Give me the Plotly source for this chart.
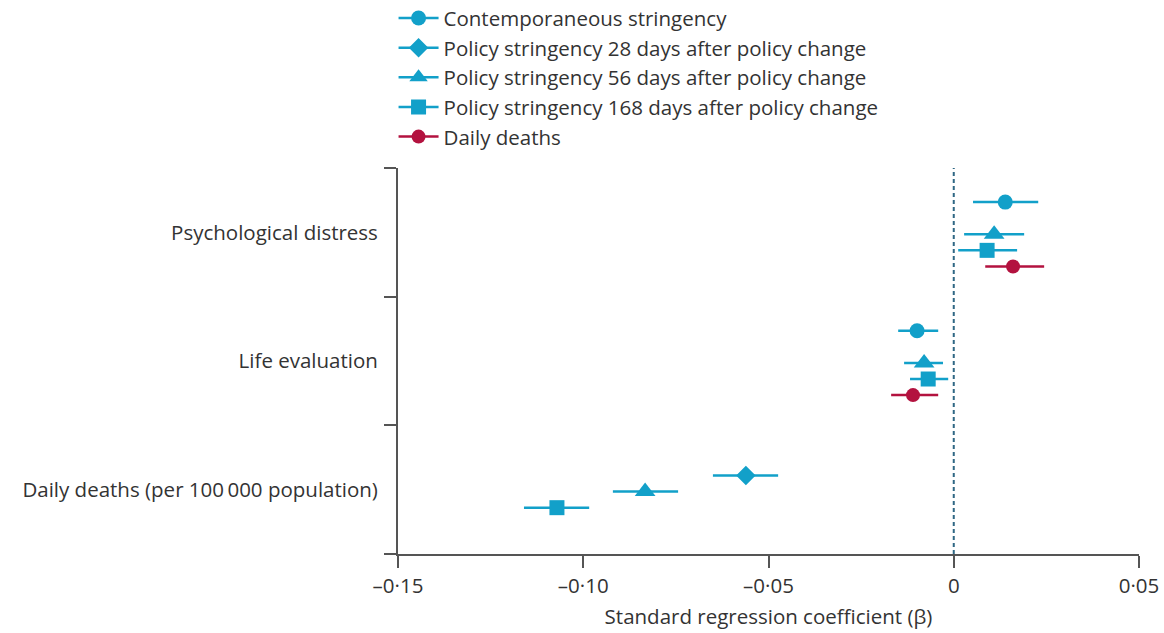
import plotly.graph_objects as go

categories = ["Psychological distress", "Life evaluation", "Daily deaths (per 100\u2009000 population)"]

series_names = [
    "Contemporaneous stringency",
    "Policy stringency 28 days after policy change",
    "Policy stringency 56 days after policy change",
    "Policy stringency 168 days after policy change",
    "Daily deaths",
]

# estimates per category (None = not estimated)
contemp_est = [0.0139, -0.0099, None]
contemp_lo = [0.0052, -0.0150, None]
contemp_hi = [0.0228, -0.0042, None]

lag28_est = [None, None, -0.0561]
lag28_lo = [None, None, -0.0650]
lag28_hi = [None, None, -0.0474]

lag56_est = [0.0109, -0.0080, -0.0833]
lag56_lo = [0.0028, -0.0134, -0.0920]
lag56_hi = [0.0190, -0.0029, -0.0744]

lag168_est = [0.0090, -0.0069, -0.1071]
lag168_lo = [0.0012, -0.0118, -0.1160]
lag168_hi = [0.0171, -0.0015, -0.0984]

deaths_est = [0.0160, -0.0110, None]
deaths_lo = [0.0085, -0.0169, None]
deaths_hi = [0.0244, -0.0042, None]

x_ticks = [-0.15, -0.10, -0.05, 0, 0.05]
x_tick_labels = ["\u20130\u00b715", "\u20130\u00b710", "\u20130\u00b705", "0", "0\u00b705"]

BLUE = "#12a0c9"
RED = "#b3123f"
FONT = "Open Sans"
FS = 20.5
TXT = "#333333"

series = [
    (series_names[0], contemp_est, contemp_lo, contemp_hi, "circle", 15, BLUE),
    (series_names[1], lag28_est, lag28_lo, lag28_hi, "diamond", 15, BLUE),
    (series_names[2], lag56_est, lag56_lo, lag56_hi, "triangle-up", 18, BLUE),
    (series_names[3], lag168_est, lag168_lo, lag168_hi, "square", 15, BLUE),
    (series_names[4], deaths_est, deaths_lo, deaths_hi, "circle", 14, RED),
]
offsets = [-0.235, -0.11, 0.015, 0.14, 0.265]

fig = go.Figure()
for k, (name, est, lo, hi, sym, size, col) in enumerate(series):
    xs, ys, plus, minus = [], [], [], []
    for i, v in enumerate(est):
        if v is None:
            continue
        xs.append(v)
        ys.append(i + offsets[k])
        plus.append(hi[i] - v)
        minus.append(v - lo[i])
    fig.add_trace(go.Scatter(
        x=xs, y=ys, mode="markers", name=name, legendgroup=name, showlegend=False,
        marker=dict(symbol=sym, size=size, color=col, line=dict(width=0)),
        error_x=dict(type="data", symmetric=False, array=plus, arrayminus=minus,
                     color=col, thickness=2.5, width=0),
        hoverinfo="x+name",
    ))
    fig.add_trace(go.Scatter(
        x=[None], y=[None], mode="lines+markers", name=name, legendgroup=name,
        showlegend=True,
        marker=dict(symbol=sym, size=size, color=col),
        line=dict(color=col, width=2.5),
    ))

fig.add_shape(type="line", xref="x", yref="paper", x0=0, x1=0, y0=0, y1=1,
              line=dict(color="#2f6784", width=2, dash="4px,3px"))

fig.update_layout(
    width=1164, height=633,
    margin=dict(l=398, r=25, t=168, b=79, autoexpand=False),
    plot_bgcolor="white", paper_bgcolor="white",
    font=dict(family=FONT, size=FS, color=TXT),
    showlegend=True,
    legend=dict(
        x=-0.006, xanchor="left", xref="paper",
        y=1.44, yanchor="top", yref="paper",
        font=dict(family=FONT, size=FS, color=TXT),
        traceorder="grouped", tracegroupgap=0, itemwidth=40,
        bgcolor="rgba(0,0,0,0)",
    ),
    xaxis=dict(
        range=[-0.15, 0.05], tickvals=x_ticks, ticktext=x_tick_labels,
        showgrid=False, zeroline=False, showline=True, linecolor="#555555", linewidth=2,
        ticks="outside", ticklen=12, tickwidth=2, tickcolor="#555555",
        tickfont=dict(family=FONT, size=FS, color=TXT), automargin=False,
        title=dict(text="Standard regression coefficient (\u03b2)", standoff=12,
                   font=dict(family=FONT, size=FS, color=TXT)),
    ),
    yaxis=dict(
        range=[2.5, -0.5], tickvals=[0, 1, 2], ticktext=categories,
        showgrid=False, zeroline=False, showline=True, linecolor="#555555", linewidth=2,
        ticks="outside", ticklen=0, tickcolor="rgba(0,0,0,0)",
        ticklabelstandoff=14, automargin=False,
        tickfont=dict(family=FONT, size=FS, color=TXT),
        minor=dict(tickvals=[-0.5, 0.5, 1.5, 2.5], ticks="outside", ticklen=12,
                   tickwidth=2, tickcolor="#555555", showgrid=False),
    ),
)

fig.write_html("out.html", config={"displayModeBar": False},
               post_script="document.body.style.margin='0';document.body.style.overflow='hidden';")
